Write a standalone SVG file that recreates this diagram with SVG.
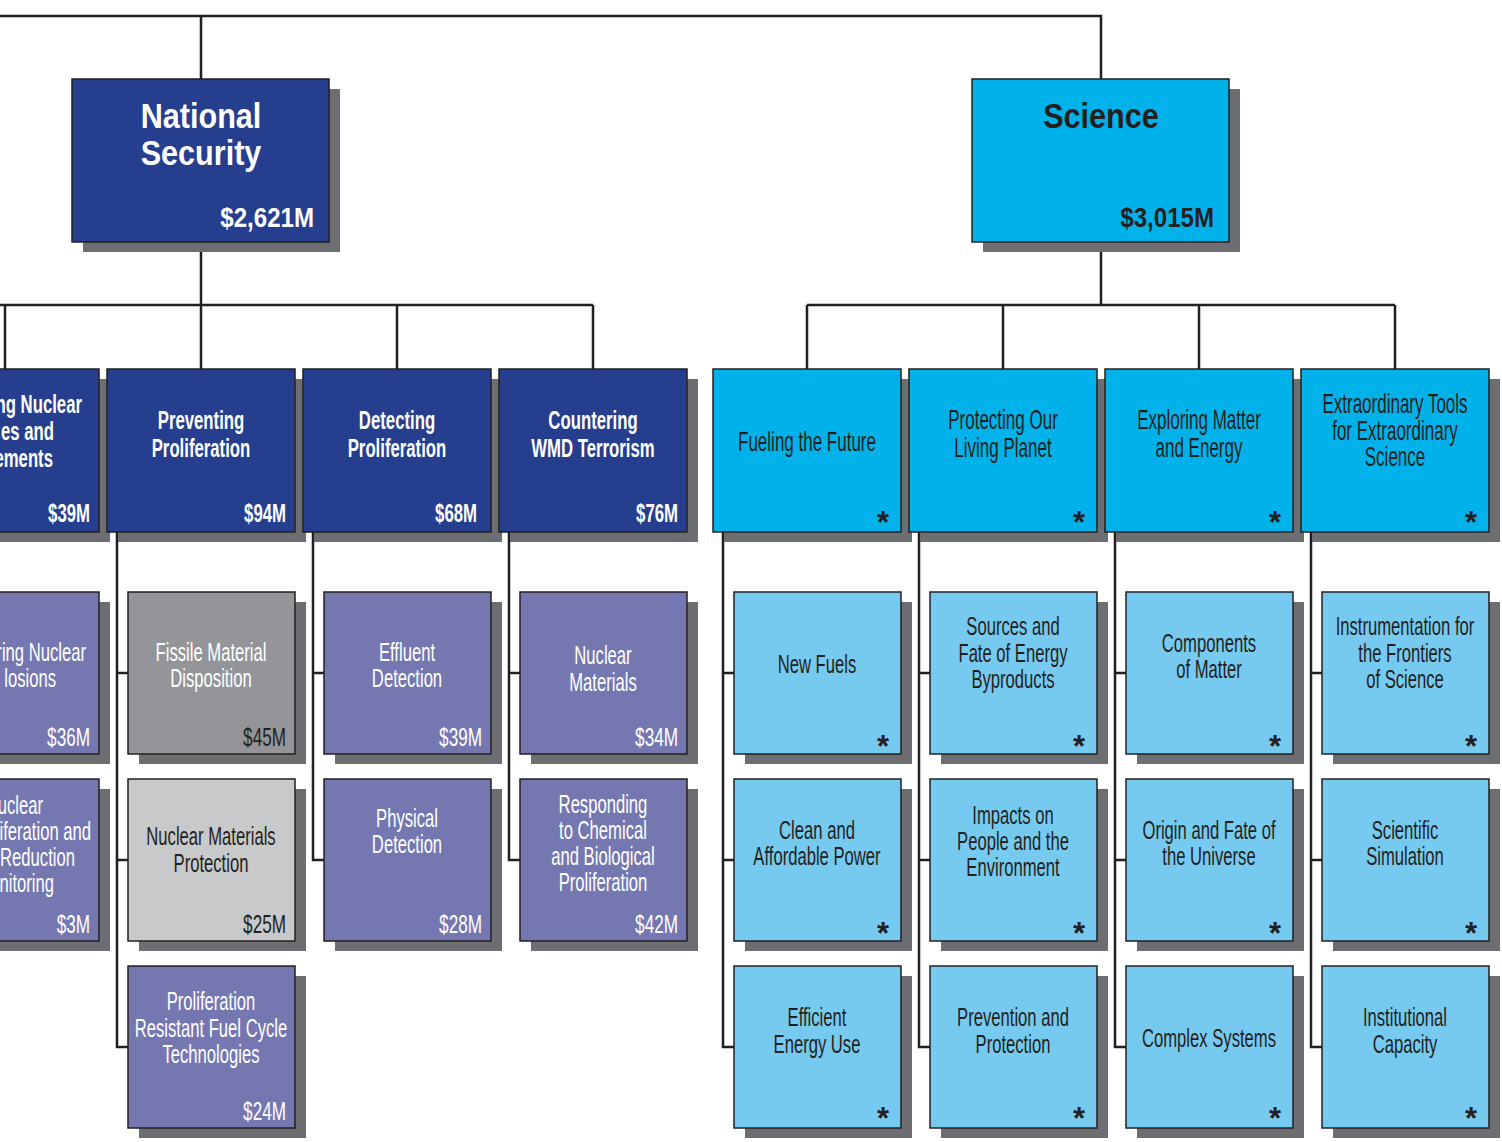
<svg xmlns="http://www.w3.org/2000/svg" width="1502" height="1142" viewBox="0 0 1502 1142">
  <style>
    .sh { fill: #6d6e71; }
    .bx { stroke: #231f20; stroke-width: 1.5; }
    .ns { fill: #263e8e; }
    .sc { fill: #00b1ea; }
    .pu { fill: #7577b1; }
    .g1 { fill: #939598; }
    .g2 { fill: #c8c9cb; }
    .lb { fill: #76caf0; }
    .ln { stroke: #231f20; stroke-width: 2.5; fill: none; }
    text { font-family: "Liberation Sans", Arial, Helvetica, sans-serif; }
    .t1 { font-size: 36px; font-weight: bold; text-anchor: middle; }
    .a1 { font-size: 28px; font-weight: bold; text-anchor: end; }
    .t2b { font-size: 25px; font-weight: bold; text-anchor: middle; fill: #fff; }
    .t2e { font-size: 25px; font-weight: bold; text-anchor: end; fill: #fff; }
    .t2r { font-size: 27px; text-anchor: middle; fill: #231f20; }
    .t3 { font-size: 26px; text-anchor: middle; }
    .t3e { font-size: 26px; text-anchor: end; }
    .a3 { font-size: 26px; text-anchor: end; }
    .w { fill: #fff; }
    .d { fill: #231f20; }
    .ast { font-size: 31px; font-weight: bold; text-anchor: middle; fill: #231f20; }
  </style>

  <rect width="1502" height="1142" fill="#fff"/>

  <!-- connectors -->
  <g id="connectors" class="ln">
    <path d="M0 16 H1101 V79 M201 16 V79"/>
    <path d="M201 242 V305 M0 305 H593 M5 305 V369 M201 305 V369 M397 305 V369 M593 305 V369"/>
    <path d="M1101 242 V305 M807 305 H1395 M807 305 V369 M1003 305 V369 M1199 305 V369 M1395 305 V369"/>
    <path d="M117 532 V1047 H128 M117 673 H128 M117 860 H128"/>
    <path d="M313 532 V860 H324 M313 673 H324"/>
    <path d="M509 532 V860 H520 M509 673 H520"/>
    <path d="M723 532 V1047 H734 M723 673 H734 M723 860 H734"/>
    <path d="M919 532 V1047 H930 M919 673 H930 M919 860 H930"/>
    <path d="M1115 532 V1047 H1126 M1115 673 H1126 M1115 860 H1126"/>
    <path d="M1311 532 V1047 H1322 M1311 673 H1322 M1311 860 H1322"/>
  </g>

  <!-- top level -->
  <g id="national-security">
    <rect class="sh" x="83" y="89" width="257" height="163"/>
    <rect class="bx ns" x="72" y="79" width="257" height="163"/>
    <text class="t1 w" transform="translate(201 0) scale(0.85 1)"><tspan x="0" y="128">National</tspan><tspan x="0" y="165">Security</tspan></text>
    <text class="a1 w" transform="translate(314 227) scale(0.86 1)">$2,621M</text>
  </g>
  <g id="science">
    <rect class="sh" x="983" y="89" width="257" height="163"/>
    <rect class="bx sc" x="972" y="79" width="257" height="163"/>
    <text class="t1 d" transform="translate(1101 128) scale(0.85 1)">Science</text>
    <text class="a1 d" transform="translate(1214 227) scale(0.86 1)">$3,015M</text>
  </g>

  <!-- national security programs -->
  <g id="ns-program-1">
    <rect class="sh" x="-78" y="379" width="188" height="163"/>
    <rect class="bx ns" x="-89" y="369" width="188" height="163"/>
    <text class="t2e" transform="translate(82 413) scale(0.67 1)">ng Nuclear</text>
    <text class="t2e" transform="translate(54 440) scale(0.67 1)">es and</text>
    <text class="t2e" transform="translate(53 467) scale(0.67 1)">ements</text>
    <text class="t2e" transform="translate(90 522) scale(0.67 1)">$39M</text>
  </g>
  <g id="preventing-proliferation">
    <rect class="sh" x="118" y="379" width="188" height="163"/>
    <rect class="bx ns" x="107" y="369" width="188" height="163"/>
    <text class="t2b" transform="translate(201 0) scale(0.67 1)"><tspan x="0" y="429">Preventing</tspan><tspan x="0" y="457">Proliferation</tspan></text>
    <text class="t2e" transform="translate(286 522) scale(0.67 1)">$94M</text>
  </g>
  <g id="detecting-proliferation">
    <rect class="sh" x="314" y="379" width="188" height="163"/>
    <rect class="bx ns" x="303" y="369" width="188" height="163"/>
    <text class="t2b" transform="translate(397 0) scale(0.67 1)"><tspan x="0" y="429">Detecting</tspan><tspan x="0" y="457">Proliferation</tspan></text>
    <text class="t2e" transform="translate(477 522) scale(0.67 1)">$68M</text>
  </g>
  <g id="countering-wmd-terrorism">
    <rect class="sh" x="510" y="379" width="188" height="163"/>
    <rect class="bx ns" x="499" y="369" width="188" height="163"/>
    <text class="t2b" transform="translate(593 0) scale(0.67 1)"><tspan x="0" y="429">Countering</tspan><tspan x="0" y="457">WMD Terrorism</tspan></text>
    <text class="t2e" transform="translate(678 522) scale(0.67 1)">$76M</text>
  </g>

  <!-- science programs -->
  <g id="fueling-the-future">
    <rect class="sh" x="724" y="379" width="188" height="163"/>
    <rect class="bx sc" x="713" y="369" width="188" height="163"/>
    <text class="t2r" transform="translate(807 451) scale(0.63 1)">Fueling the Future</text>
    <text class="ast" x="883" y="533">*</text>
  </g>
  <g id="protecting-our-living-planet">
    <rect class="sh" x="920" y="379" width="188" height="163"/>
    <rect class="bx sc" x="909" y="369" width="188" height="163"/>
    <text class="t2r" transform="translate(1003 0) scale(0.63 1)"><tspan x="0" y="429">Protecting Our</tspan><tspan x="0" y="457">Living Planet</tspan></text>
    <text class="ast" x="1079" y="533">*</text>
  </g>
  <g id="exploring-matter-and-energy">
    <rect class="sh" x="1116" y="379" width="188" height="163"/>
    <rect class="bx sc" x="1105" y="369" width="188" height="163"/>
    <text class="t2r" transform="translate(1199 0) scale(0.63 1)"><tspan x="0" y="429">Exploring Matter</tspan><tspan x="0" y="457">and Energy</tspan></text>
    <text class="ast" x="1275" y="533">*</text>
  </g>
  <g id="extraordinary-tools">
    <rect class="sh" x="1312" y="379" width="188" height="163"/>
    <rect class="bx sc" x="1301" y="369" width="188" height="163"/>
    <text class="t2r" transform="translate(1395 0) scale(0.63 1)"><tspan x="0" y="413">Extraordinary Tools</tspan><tspan x="0" y="440">for Extraordinary</tspan><tspan x="0" y="466">Science</tspan></text>
    <text class="ast" x="1471" y="533">*</text>
  </g>

  <!-- national security projects -->
  <g id="ns-project-1">
    <rect class="sh" x="-57" y="602" width="167" height="162"/>
    <rect class="bx pu" x="-68" y="592" width="167" height="162"/>
    <text class="t3e w" transform="translate(86 661) scale(0.64 1)">ring Nuclear</text>
    <text class="t3e w" transform="translate(56 687) scale(0.64 1)">losions</text>
    <text class="a3 w" transform="translate(90 746) scale(0.66 1)">$36M</text>
  </g>
  <g id="ns-project-2">
    <rect class="sh" x="-57" y="789" width="167" height="162"/>
    <rect class="bx pu" x="-68" y="779" width="167" height="162"/>
    <text class="t3e w" transform="translate(43 814) scale(0.64 1)">uclear</text>
    <text class="t3e w" transform="translate(91 840) scale(0.64 1)">iferation and</text>
    <text class="t3e w" transform="translate(75 866) scale(0.64 1)">Reduction</text>
    <text class="t3e w" transform="translate(54 892) scale(0.64 1)">nitoring</text>
    <text class="a3 w" transform="translate(90 933) scale(0.66 1)">$3M</text>
  </g>
  <g id="fissile-material-disposition">
    <rect class="sh" x="139" y="602" width="167" height="162"/>
    <rect class="bx g1" x="128" y="592" width="167" height="162"/>
    <text class="t3 w" transform="translate(211 0) scale(0.64 1)"><tspan x="0" y="661">Fissile Material</tspan><tspan x="0" y="687">Disposition</tspan></text>
    <text class="a3 d" transform="translate(286 746) scale(0.66 1)">$45M</text>
  </g>
  <g id="nuclear-materials-protection">
    <rect class="sh" x="139" y="789" width="167" height="162"/>
    <rect class="bx g2" x="128" y="779" width="167" height="162"/>
    <text class="t3 d" transform="translate(211 0) scale(0.64 1)"><tspan x="0" y="845">Nuclear Materials</tspan><tspan x="0" y="872">Protection</tspan></text>
    <text class="a3 d" transform="translate(286 933) scale(0.66 1)">$25M</text>
  </g>
  <g id="proliferation-resistant-fuel-cycle">
    <rect class="sh" x="139" y="976" width="167" height="162"/>
    <rect class="bx pu" x="128" y="966" width="167" height="162"/>
    <text class="t3 w" transform="translate(211 0) scale(0.64 1)"><tspan x="0" y="1010">Proliferation</tspan><tspan x="0" y="1037">Resistant Fuel Cycle</tspan><tspan x="0" y="1063">Technologies</tspan></text>
    <text class="a3 w" transform="translate(286 1120) scale(0.66 1)">$24M</text>
  </g>
  <g id="effluent-detection">
    <rect class="sh" x="335" y="602" width="167" height="162"/>
    <rect class="bx pu" x="324" y="592" width="167" height="162"/>
    <text class="t3 w" transform="translate(407 0) scale(0.64 1)"><tspan x="0" y="661">Effluent</tspan><tspan x="0" y="687">Detection</tspan></text>
    <text class="a3 w" transform="translate(482 746) scale(0.66 1)">$39M</text>
  </g>
  <g id="physical-detection">
    <rect class="sh" x="335" y="789" width="167" height="162"/>
    <rect class="bx pu" x="324" y="779" width="167" height="162"/>
    <text class="t3 w" transform="translate(407 0) scale(0.64 1)"><tspan x="0" y="827">Physical</tspan><tspan x="0" y="853">Detection</tspan></text>
    <text class="a3 w" transform="translate(482 933) scale(0.66 1)">$28M</text>
  </g>
  <g id="nuclear-materials">
    <rect class="sh" x="531" y="602" width="167" height="162"/>
    <rect class="bx pu" x="520" y="592" width="167" height="162"/>
    <text class="t3 w" transform="translate(603 0) scale(0.64 1)"><tspan x="0" y="664">Nuclear</tspan><tspan x="0" y="691">Materials</tspan></text>
    <text class="a3 w" transform="translate(678 746) scale(0.66 1)">$34M</text>
  </g>
  <g id="responding-chem-bio">
    <rect class="sh" x="531" y="789" width="167" height="162"/>
    <rect class="bx pu" x="520" y="779" width="167" height="162"/>
    <text class="t3 w" transform="translate(603 0) scale(0.64 1)"><tspan x="0" y="813">Responding</tspan><tspan x="0" y="839">to Chemical</tspan><tspan x="0" y="865">and Biological</tspan><tspan x="0" y="891">Proliferation</tspan></text>
    <text class="a3 w" transform="translate(678 933) scale(0.66 1)">$42M</text>
  </g>

  <!-- science projects: column 1 -->
  <g id="new-fuels">
    <rect class="sh" x="745" y="602" width="167" height="162"/>
    <rect class="bx lb" x="734" y="592" width="167" height="162"/>
    <text class="t3 d" transform="translate(817 673) scale(0.64 1)">New Fuels</text>
    <text class="ast" x="883" y="757">*</text>
  </g>
  <g id="clean-affordable-power">
    <rect class="sh" x="745" y="789" width="167" height="162"/>
    <rect class="bx lb" x="734" y="779" width="167" height="162"/>
    <text class="t3 d" transform="translate(817 0) scale(0.64 1)"><tspan x="0" y="839">Clean and</tspan><tspan x="0" y="865">Affordable Power</tspan></text>
    <text class="ast" x="883" y="944">*</text>
  </g>
  <g id="efficient-energy-use">
    <rect class="sh" x="745" y="976" width="167" height="162"/>
    <rect class="bx lb" x="734" y="966" width="167" height="162"/>
    <text class="t3 d" transform="translate(817 0) scale(0.64 1)"><tspan x="0" y="1026">Efficient</tspan><tspan x="0" y="1053">Energy Use</tspan></text>
    <text class="ast" x="883" y="1129">*</text>
  </g>

  <!-- science projects: column 2 -->
  <g id="energy-byproducts">
    <rect class="sh" x="941" y="602" width="167" height="162"/>
    <rect class="bx lb" x="930" y="592" width="167" height="162"/>
    <text class="t3 d" transform="translate(1013 0) scale(0.64 1)"><tspan x="0" y="635">Sources and</tspan><tspan x="0" y="662">Fate of Energy</tspan><tspan x="0" y="688">Byproducts</tspan></text>
    <text class="ast" x="1079" y="757">*</text>
  </g>
  <g id="impacts-people-environment">
    <rect class="sh" x="941" y="789" width="167" height="162"/>
    <rect class="bx lb" x="930" y="779" width="167" height="162"/>
    <text class="t3 d" transform="translate(1013 0) scale(0.64 1)"><tspan x="0" y="824">Impacts on</tspan><tspan x="0" y="850">People and the</tspan><tspan x="0" y="876">Environment</tspan></text>
    <text class="ast" x="1079" y="944">*</text>
  </g>
  <g id="prevention-protection">
    <rect class="sh" x="941" y="976" width="167" height="162"/>
    <rect class="bx lb" x="930" y="966" width="167" height="162"/>
    <text class="t3 d" transform="translate(1013 0) scale(0.64 1)"><tspan x="0" y="1026">Prevention and</tspan><tspan x="0" y="1053">Protection</tspan></text>
    <text class="ast" x="1079" y="1129">*</text>
  </g>

  <!-- science projects: column 3 -->
  <g id="components-of-matter">
    <rect class="sh" x="1137" y="602" width="167" height="162"/>
    <rect class="bx lb" x="1126" y="592" width="167" height="162"/>
    <text class="t3 d" transform="translate(1209 0) scale(0.64 1)"><tspan x="0" y="652">Components</tspan><tspan x="0" y="678">of Matter</tspan></text>
    <text class="ast" x="1275" y="757">*</text>
  </g>
  <g id="origin-fate-universe">
    <rect class="sh" x="1137" y="789" width="167" height="162"/>
    <rect class="bx lb" x="1126" y="779" width="167" height="162"/>
    <text class="t3 d" transform="translate(1209 0) scale(0.64 1)"><tspan x="0" y="839">Origin and Fate of</tspan><tspan x="0" y="865">the Universe</tspan></text>
    <text class="ast" x="1275" y="944">*</text>
  </g>
  <g id="complex-systems">
    <rect class="sh" x="1137" y="976" width="167" height="162"/>
    <rect class="bx lb" x="1126" y="966" width="167" height="162"/>
    <text class="t3 d" transform="translate(1209 1047) scale(0.64 1)">Complex Systems</text>
    <text class="ast" x="1275" y="1129">*</text>
  </g>

  <!-- science projects: column 4 -->
  <g id="instrumentation-frontiers">
    <rect class="sh" x="1333" y="602" width="167" height="162"/>
    <rect class="bx lb" x="1322" y="592" width="167" height="162"/>
    <text class="t3 d" transform="translate(1405 0) scale(0.64 1)"><tspan x="0" y="635">Instrumentation for</tspan><tspan x="0" y="662">the Frontiers</tspan><tspan x="0" y="688">of Science</tspan></text>
    <text class="ast" x="1471" y="757">*</text>
  </g>
  <g id="scientific-simulation">
    <rect class="sh" x="1333" y="789" width="167" height="162"/>
    <rect class="bx lb" x="1322" y="779" width="167" height="162"/>
    <text class="t3 d" transform="translate(1405 0) scale(0.64 1)"><tspan x="0" y="839">Scientific</tspan><tspan x="0" y="865">Simulation</tspan></text>
    <text class="ast" x="1471" y="944">*</text>
  </g>
  <g id="institutional-capacity">
    <rect class="sh" x="1333" y="976" width="167" height="162"/>
    <rect class="bx lb" x="1322" y="966" width="167" height="162"/>
    <text class="t3 d" transform="translate(1405 0) scale(0.64 1)"><tspan x="0" y="1026">Institutional</tspan><tspan x="0" y="1053">Capacity</tspan></text>
    <text class="ast" x="1471" y="1129">*</text>
  </g>
</svg>
